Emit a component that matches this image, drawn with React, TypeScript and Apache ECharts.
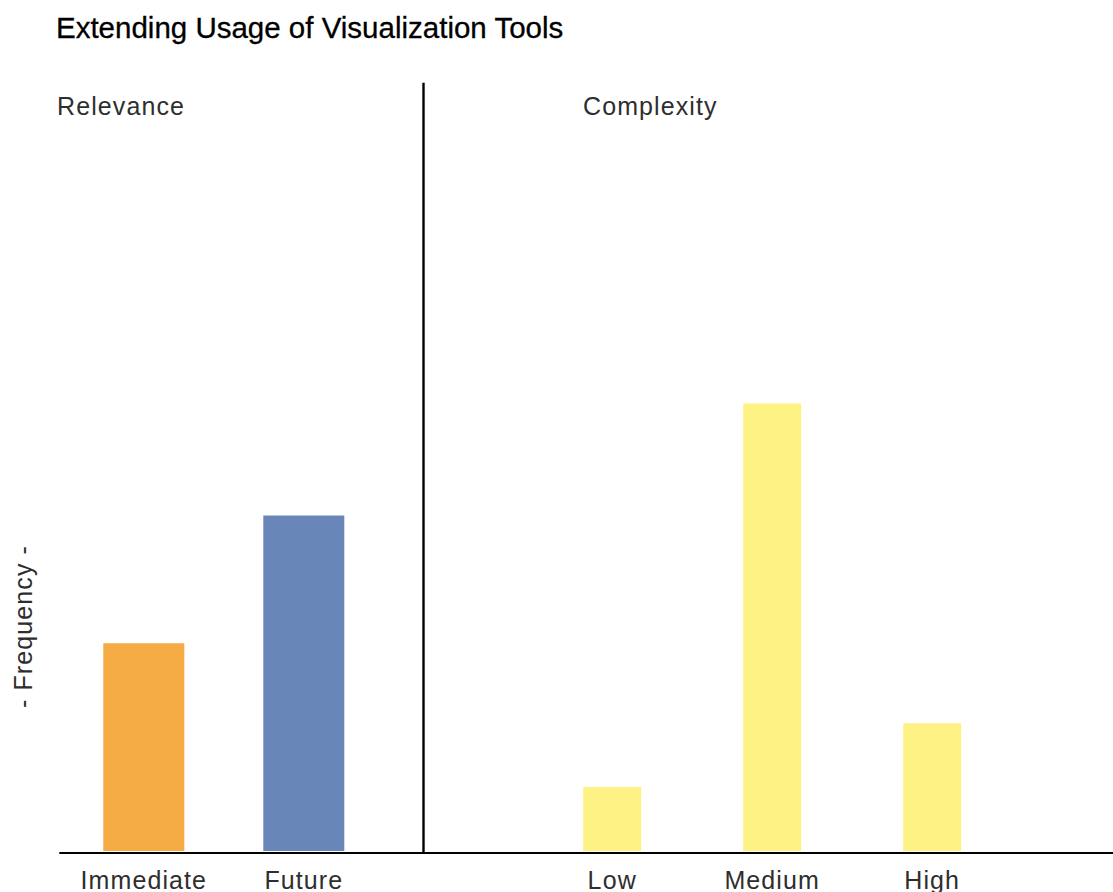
import React, { useEffect, useRef } from "react";
import * as echarts from "echarts";

const TITLE = "Extending Usage of Visualization Tools";
const Y_NAME = "- Frequency -";
const PANEL_LABELS = ["Relevance", "Complexity"];

const relevanceCategories = ["Immediate", "Future"];
const relevanceValues = [3.25, 5.25];
const relevanceColors = ["#F5AC45", "#6886B8"];

const complexityCategories = ["Low", "Medium", "High"];
const complexityValues = [1, 7, 2];
const complexityColor = "#FFF285";

const Y_MAX = 12;

const FONT = '"Liberation Sans", Arial, Helvetica, sans-serif';
const LABEL_SIZE = 25;
const TEXT_COLOR = "#2e2e2e";

export default function App() {
  const ref = useRef<HTMLDivElement>(null);

  useEffect(() => {
    if (!ref.current) return;
    const chart = echarts.init(ref.current, undefined, { renderer: "svg" });

    const option: any = {
      animation: false,
      backgroundColor: "#ffffff",
      title: {
        text: TITLE,
        left: 56,
        top: 12.7,
        padding: 0,
        textStyle: {
          fontFamily: FONT,
          fontSize: 29.5,
          fontWeight: "normal",
          color: "#000000",
          textBorderColor: "#000000",
          textBorderWidth: 0.3,
        },
      },
      grid: [
        { left: 63.8, top: 84, width: 320, bottom: 40 },
        { left: 532.2, top: 84, width: 480, bottom: 40 },
      ],
      xAxis: [
        {
          type: "category",
          gridIndex: 0,
          data: relevanceCategories,
          axisLine: { show: false },
          axisTick: { show: false },
          axisLabel: {
            margin: 16,
            fontFamily: FONT,
            fontSize: LABEL_SIZE,
            color: TEXT_COLOR,
          },
        },
        {
          type: "category",
          gridIndex: 1,
          data: complexityCategories,
          axisLine: { show: false },
          axisTick: { show: false },
          axisLabel: {
            margin: 16,
            fontFamily: FONT,
            fontSize: LABEL_SIZE,
            color: TEXT_COLOR,
          },
        },
      ],
      yAxis: [
        { type: "value", gridIndex: 0, min: 0, max: Y_MAX, show: false },
        { type: "value", gridIndex: 1, min: 0, max: Y_MAX, show: false },
      ],
      series: [
        {
          type: "bar",
          xAxisIndex: 0,
          yAxisIndex: 0,
          barWidth: 81,
          data: relevanceValues.map((v, i) => ({
            value: v,
            itemStyle: { color: relevanceColors[i] },
          })),
        },
        {
          type: "bar",
          xAxisIndex: 1,
          yAxisIndex: 1,
          barWidth: 58,
          itemStyle: { color: complexityColor },
          data: complexityValues,
        },
      ],
      graphic: [
        {
          type: "line",
          z: 100,
          shape: { x1: 59.3, y1: 853, x2: 1113, y2: 853 },
          style: { stroke: "#000000", lineWidth: 2 },
        },
        {
          type: "line",
          z: 100,
          shape: { x1: 423.5, y1: 82.7, x2: 423.5, y2: 853 },
          style: { stroke: "#000000", lineWidth: 2.4 },
        },
        {
          type: "text",
          x: 57,
          y: 93.5,
          style: {
            text: PANEL_LABELS[0],
            fontFamily: FONT,
            fontSize: LABEL_SIZE,
            fill: TEXT_COLOR,
            verticalAlign: "top",
            align: "left",
          },
        },
        {
          type: "text",
          x: 583,
          y: 93.5,
          style: {
            text: PANEL_LABELS[1],
            fontFamily: FONT,
            fontSize: LABEL_SIZE,
            fill: TEXT_COLOR,
            verticalAlign: "top",
            align: "left",
          },
        },
        {
          type: "text",
          x: 23.3,
          y: 626.5,
          rotation: Math.PI / 2,
          style: {
            text: Y_NAME,
            fontFamily: FONT,
            fontSize: LABEL_SIZE,
            fill: TEXT_COLOR,
            verticalAlign: "middle",
            align: "center",
          },
        },
      ],
    };

    chart.setOption(option);

    const applySpacing = () => {
      if (!ref.current) return;
      const texts = ref.current.querySelectorAll("text");
      texts.forEach((t) => {
        const fs = window.getComputedStyle(t).fontSize;
        if (fs === LABEL_SIZE + "px") {
          t.setAttribute("letter-spacing", "1.1");
        }
      });
    };
    applySpacing();
    chart.on("finished", applySpacing);
    const raf = requestAnimationFrame(applySpacing);
    const timer = setTimeout(applySpacing, 50);

    return () => {
      cancelAnimationFrame(raf);
      clearTimeout(timer);
      chart.dispose();
    };
  }, []);

  return (
    <div
      ref={ref}
      style={{
        position: "fixed",
        left: 0,
        top: 0,
        width: 1113,
        height: 892,
        background: "#ffffff",
      }}
    />
  );
}
